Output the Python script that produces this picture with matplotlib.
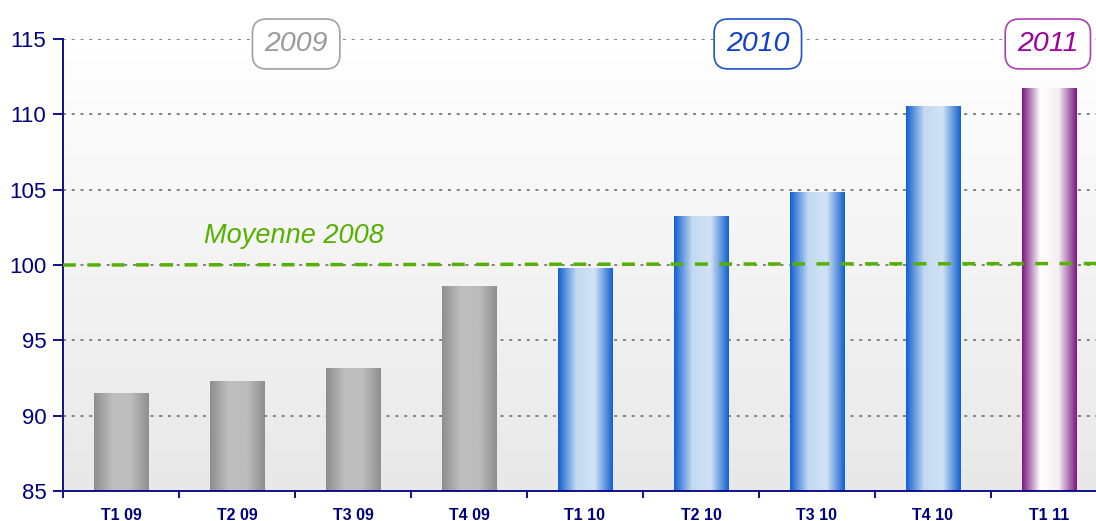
import numpy as np
import matplotlib.pyplot as plt
from matplotlib.colors import LinearSegmentedColormap

plt.rcParams['font.family'] = ['Liberation Sans', 'DejaVu Sans']

# data
categories = ["T1 09", "T2 09", "T3 09", "T4 09", "T1 10", "T2 10", "T3 10", "T4 10", "T1 11"]
values = [91.45, 92.25, 93.15, 98.6, 99.75, 103.25, 104.8, 110.55, 111.7]
years = ["2009", "2009", "2009", "2009", "2010", "2010", "2010", "2010", "2011"]
year_labels = ["2009", "2010", "2011"]
year_label_x = [1.51, 5.49, 7.99]
moyenne_ends = [100.0, 100.1]
moyenne_label = "Moyenne 2008"

navy = "#000080"
bar_cmaps = {
    "2009": LinearSegmentedColormap.from_list("g", ["#8e8e8e", "#bdbdbd", "#bdbdbd", "#8e8e8e"]),
    "2010": LinearSegmentedColormap.from_list("b", ["#1060d0", "#c4daf2", "#d2e2f4", "#1060d0"]),
    "2011": LinearSegmentedColormap.from_list("p", ["#7a1880", "#ffffff", "#f4eef4", "#7a1880"]),
}
year_colors = {"2009": ("#9a9a9a", "#a0a0a0"), "2010": ("#1040c8", "#2050d0"), "2011": ("#a000a0", "#b040b0")}

fig = plt.figure(figsize=(10.96, 5.21), dpi=100)
# the plot runs a bit past the right edge of the picture
ax = fig.add_axes([63 / 1096, 1 - 491 / 521, 1044 / 1096, (491 - 39) / 521])

n = len(categories)
x = np.arange(n)
ax.set_xlim(-0.5, n - 0.5)
ax.set_ylim(85, 115)

# background gradient
bg = np.linspace(0, 1, 100).reshape(-1, 1)
bg_cmap = LinearSegmentedColormap.from_list("bg", ["#e8e8e8", "#ffffff"])
ax.imshow(bg, extent=(-0.5, n - 0.5, 85, 115), origin="lower", cmap=bg_cmap,
          aspect="auto", zorder=0)

# grid
for yv in range(90, 116, 5):
    ax.axhline(yv, color="#808080", linestyle=(0, (1.5, 3)), linewidth=1.4, zorder=1)

# gradient bars
w = 0.474
grad = np.linspace(0, 1, 256).reshape(1, -1)
for xi, v, yr in zip(x, values, years):
    ax.imshow(grad, extent=(xi - w / 2, xi + w / 2, 85, v), cmap=bar_cmaps[yr],
              aspect="auto", zorder=2, interpolation="bilinear")

# moyenne 2008 line
ax.plot([-0.5, n - 0.5], moyenne_ends, color="#55b000", linestyle=(0, (3.7, 3.3)),
        linewidth=2.5, zorder=3)
ax.text(1.49, 101.9, moyenne_label, color="#55b000", fontsize=19.5, style="italic",
        ha="center", va="center", zorder=4)

# year boxes
for lbl, xl in zip(year_labels, year_label_x):
    tc, ec = year_colors[lbl]
    ax.text(xl, 114.67, lbl, color=tc, fontsize=20.5, style="italic", ha="center",
            va="center", zorder=5, clip_on=False,
            bbox=dict(boxstyle="round,pad=0.42,rounding_size=0.5", fc="white", ec=ec, lw=1.2))

# axes styling
for s in ["top", "right"]:
    ax.spines[s].set_visible(False)
ax.spines["left"].set_color(navy)
ax.spines["bottom"].set_color(navy)
ax.spines["left"].set_linewidth(1.3)
ax.spines["bottom"].set_linewidth(1.3)
ax.set_yticks(range(85, 116, 5))
ax.tick_params(axis="y", colors=navy, labelsize=16, length=7, width=1.3, pad=5)
ax.set_xticks(np.arange(-0.5, n - 0.5 + 0.01, 1))
ax.set_xticklabels([])
ax.tick_params(axis="x", colors=navy, length=5, width=1.3)
ax.set_xticks(x, minor=True)
ax.set_xticklabels(categories, minor=True, fontsize=11.5, fontweight="bold", color=navy)
ax.tick_params(axis="x", which="minor", length=0, pad=12)

fig.savefig("out.png", dpi=100)
